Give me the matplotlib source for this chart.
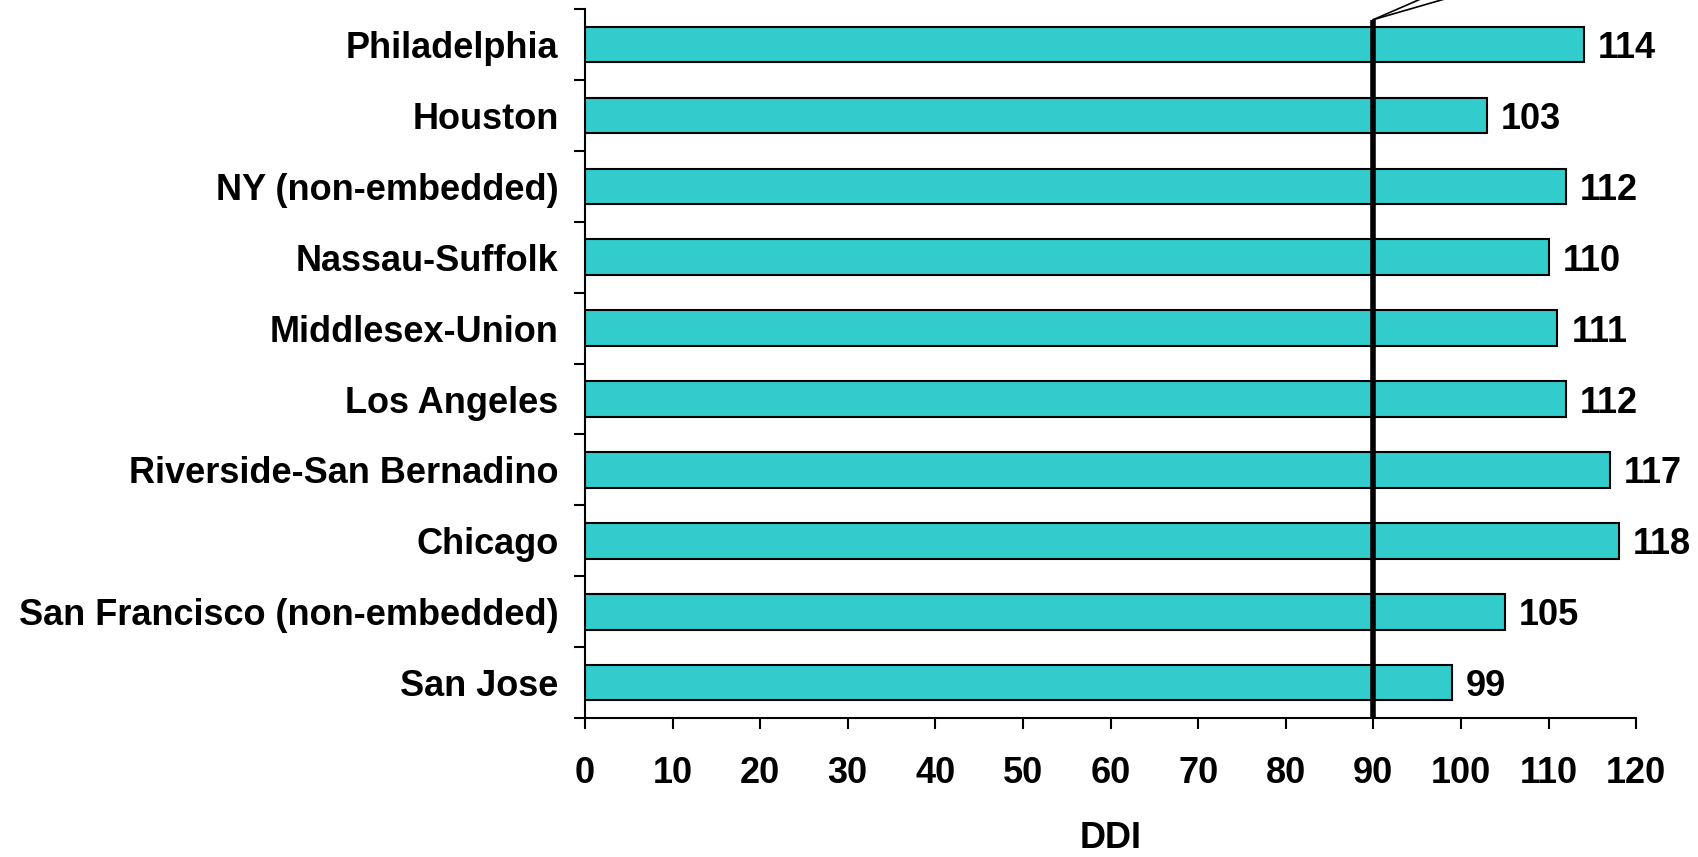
import numpy as np
import matplotlib.pyplot as plt
from matplotlib.ticker import FixedLocator

cities = ["Philadelphia", "Houston", "NY (non-embedded)", "Nassau-Suffolk",
          "Middlesex-Union", "Los Angeles", "Riverside-San Bernadino", "Chicago",
          "San Francisco (non-embedded)", "San Jose"]
ddi = [114, 103, 112, 110, 111, 112, 117, 118, 105, 99]
ref_value = 90

plt.rcParams['font.family'] = ['Liberation Sans', 'DejaVu Sans']
plt.rcParams['font.weight'] = 'bold'
fs = 26

fig = plt.figure(figsize=(16.99, 8.57), dpi=100)
ax = fig.add_axes([0.3443, 0.162, 0.6187, 0.8275])

y = np.arange(len(cities))
ax.barh(y, ddi, height=0.5, color="#33CCCC", edgecolor="black", linewidth=1.5, zorder=2)
for yi, v in zip(y, ddi):
    ax.text(v + 1.6, yi, str(v), va="center_baseline", ha="left", fontsize=fs, fontweight="bold")

ax.set_ylim(len(cities) - 0.5, -0.5)
ax.set_xlim(0, 120)

# reference line with callout wedge going off the top
ax.plot([ref_value, ref_value], [len(cities) - 0.5, -0.35], color="black", lw=4, zorder=3,
        clip_on=False, solid_capstyle="butt")
ax.plot([ref_value, 96.5], [-0.35, -0.7], color="black", lw=1.2, clip_on=False)
ax.plot([ref_value, 99.8], [-0.35, -0.7], color="black", lw=1.2, clip_on=False)

ax.set_yticks(y)
ax.set_yticklabels(cities, fontsize=fs, fontweight="bold")
ax.yaxis.set_minor_locator(FixedLocator(np.arange(-0.5, len(cities), 1)))
ax.tick_params(axis="y", which="major", length=0, pad=19)
ax.tick_params(axis="y", which="minor", length=8, width=1.5, direction="out")

ax.set_xticks(range(0, 121, 10))
ax.set_xticklabels([str(t) for t in range(0, 121, 10)], fontsize=fs, fontweight="bold")
ax.tick_params(axis="x", length=8, width=1.5, direction="out", pad=19)
ax.set_xlabel("DDI", fontsize=fs, fontweight="bold", labelpad=22)

for s in ["top", "right"]:
    ax.spines[s].set_visible(False)
for s in ["left", "bottom"]:
    ax.spines[s].set_linewidth(1.5)

fig.savefig("out.png", dpi=100)
